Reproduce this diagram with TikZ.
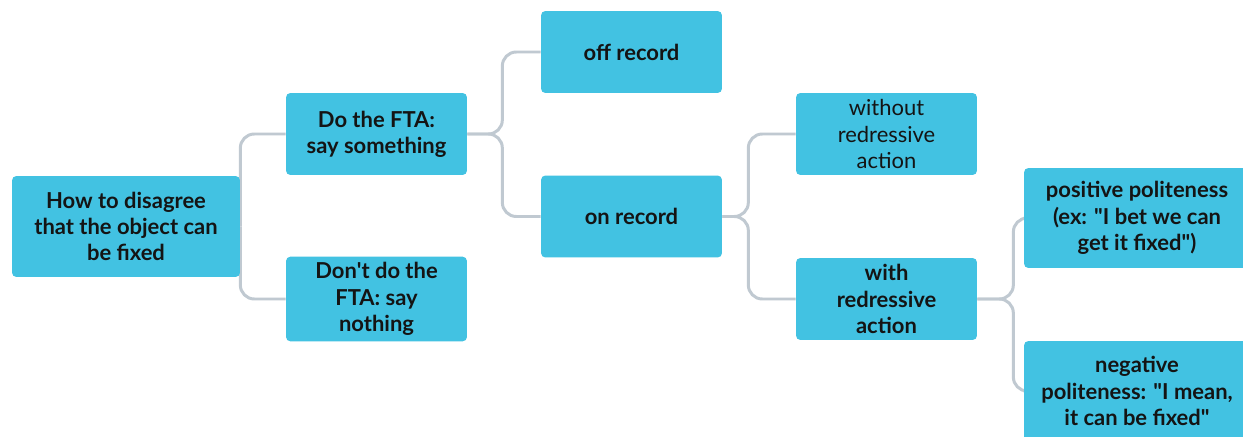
\documentclass[tikz,border=0pt]{standalone}
\usepackage{fontspec}
\setmainfont{Lato}
\usetikzlibrary{positioning, backgrounds}
\definecolor{boxblue}{RGB}{66,194,226}
\definecolor{linegray}{RGB}{192,201,209}
\definecolor{textdark}{RGB}{20,20,20}
\tikzstyle{choice} = [rectangle, rounded corners=2.5pt, minimum width=3.62cm, minimum height=1.64cm, align=center, fill=boxblue, text=textdark, font=\fontsize{12.5}{15}\selectfont\bfseries]
\tikzstyle{wide} = [choice, minimum width=4.52cm, minimum height=2cm]
\tikzstyle{link} = [line width=1.7pt, draw=linegray, rounded corners=0.28cm]

\begin{document}
\begin{tikzpicture}[x=0.02cm, y=-0.02cm]

\useasboundingbox (0,0) rectangle (1243,436);
\clip (0,0) rectangle (1243,436);

% Root
\node (root) [choice, minimum width=4.56cm, minimum height=2.02cm] at (126,226.5) {How to disagree\\that the object can\\be fixed};

% First level: do or do not
\node (doit) [choice] at (376.5,134) {Do the FTA:\\say something};
\node (dont) [choice] at (376.5,299) {Don\textquotesingle t do the\\FTA: say\\nothing};

% Second level: off or on record
\node (offrec) [choice] at (631.5,52) {off record};
\node (onrec) [choice] at (631.5,216.5) {on record};

% Third level: redressive action
\node (bald) [choice, font=\fontsize{12.5}{15}\selectfont] at (886.5,134) {without\\redressive\\action};
\node (redress) [choice] at (886.5,299) {with\\redressive\\action};

% Fourth level: politeness
\node (pospol) [wide] at (1137,218) {positive politeness\\(ex: \textquotedbl I bet we can\\get it fixed\textquotedbl)};
\node (negpol) [wide] at (1137,391) {negative\\politeness: \textquotedbl I mean,\\it can be fixed\textquotedbl};

% Connectors
\begin{scope}[on background layer]
  \fill[white] (0,0) rectangle (1243,436);
  \draw [link] (root.east) |- (doit.west);
  \draw [link] (root.east) |- (dont.west);
  \draw [link] (doit.east) -- ++(35,0) |- (offrec.west);
  \draw [link] (doit.east) -- ++(35,0) |- (onrec.west);
  \draw [link] (onrec.east) -- ++(26,0) |- (bald.west);
  \draw [link] (onrec.east) -- ++(26,0) |- (redress.west);
  \draw [link] (redress.east) -- ++(36,0) |- (pospol.west);
  \draw [link] (redress.east) -- ++(36,0) |- (negpol.west);
\end{scope}

\end{tikzpicture}
\end{document}
